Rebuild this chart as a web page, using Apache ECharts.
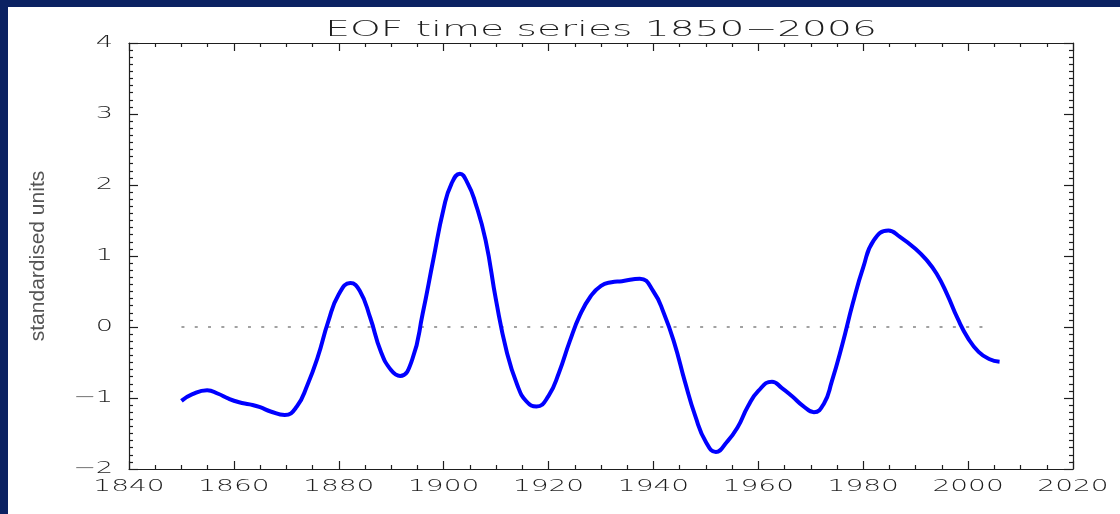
<!DOCTYPE html>
<html>
<head>
<meta charset="utf-8">
<script src="https://cdn.jsdelivr.net/npm/echarts@6/dist/echarts.min.js"></script>
<style>
  html, body { margin: 0; padding: 0; background: #0b2262; width: 1120px; height: 514px; overflow: hidden; }
  #chart { position: absolute; left: 8px; top: 7px; width: 1112px; height: 507px; background: #ffffff; }
</style>
</head>
<body>
<div id="chart"></div>
<script>
// EOF principal component time series, standardised units
// (turning points are included as samples so the smoothed curve peaks on them)
const years = [
  1850, 1852, 1854.9, 1857, 1859, 1861, 1863, 1865, 1867, 1869.7,
  1872, 1874, 1876, 1878, 1880, 1882.2, 1884, 1886, 1888, 1890,
  1891.7, 1894, 1896, 1898, 1900, 1901.5, 1903.1, 1904.6, 1906, 1908,
  1910, 1912, 1914, 1915.8, 1917.7, 1920, 1922, 1924, 1926, 1928,
  1930, 1932, 1934, 1937.4, 1940, 1942, 1944, 1946, 1948, 1950,
  1951.9, 1954, 1956, 1958, 1960, 1962.6, 1964.5, 1966.5, 1968.5, 1970.6,
  1972.5, 1974, 1976, 1978, 1980, 1982, 1984.8, 1987, 1990, 1992,
  1994, 1996, 1998, 2000, 2002, 2004, 2006
];
const values = [
  -1.04, -0.95, -0.89, -0.94, -1.01, -1.06, -1.09, -1.13, -1.19, -1.24,
  -1.12, -0.82, -0.42, 0.08, 0.46, 0.62, 0.51, 0.13, -0.34, -0.61,
  -0.69, -0.46, 0.19, 0.94, 1.67, 2.02, 2.16, 2.02, 1.76, 1.22,
  0.37, -0.34, -0.81, -1.05, -1.12, -0.97, -0.64, -0.21, 0.17, 0.43,
  0.58, 0.63, 0.645, 0.68, 0.50, 0.19, -0.23, -0.77, -1.26, -1.62,
  -1.76, -1.62, -1.42, -1.12, -0.90, -0.77, -0.86, -0.98, -1.11, -1.20,
  -1.08, -0.77, -0.25, 0.33, 0.84, 1.22, 1.36, 1.27, 1.10, 0.95,
  0.75, 0.46, 0.12, -0.16, -0.35, -0.45, -0.49
];
// zero reference line span
const zeroLineYears = [1850, 2004.5];

const xTickLabels = [1840, 1860, 1880, 1900, 1920, 1940, 1960, 1980, 2000, 2020];
const yTickLabels = [-2, -1, 0, 1, 2, 3, 4];

const titleText = 'EOF time series 1850\u22122006';
const yAxisTitle = 'standardised units';
const xRange = [1840, 2020];
const yRange = [-2, 4];

const series = years.map((y, i) => [y, values[i]]);
const zeroLine = zeroLineYears.map(y => [y, 0]);

const ink = '#1e1e1e';
// wide, thin stroke lettering for title and tick labels
const thinFont = 'DejaVu Sans';

function yFmt(v) {
  return v < 0 ? '\u2212' + Math.abs(v) : String(v);
}

const xCommon = {
  type: 'value', min: xRange[0], max: xRange[1], interval: 20,
  axisLine: { show: true, onZero: false, lineStyle: { color: ink, width: 1.2 } },
  axisTick: { show: true, inside: true, length: 8, lineStyle: { color: ink, width: 1.2 } },
  minorTick: { show: true, splitNumber: 4, length: 4, lineStyle: { color: ink, width: 1.2 } },
  axisLabel: { show: false },
  splitLine: { show: false }
};
const yCommon = {
  type: 'value', min: yRange[0], max: yRange[1], interval: 1,
  axisLine: { show: true, onZero: false, lineStyle: { color: ink, width: 1.2 } },
  axisTick: { show: true, inside: true, length: 9, lineStyle: { color: ink, width: 1.2 } },
  minorTick: { show: true, splitNumber: 10, length: 4, lineStyle: { color: ink, width: 1.2 } },
  axisLabel: { show: false },
  splitLine: { show: false }
};

const chart = echarts.init(document.getElementById('chart'), null, { renderer: 'canvas' });
chart.setOption({
  animation: false,
  backgroundColor: '#ffffff',
  grid: { left: 121, right: 47, top: 36, bottom: 45, containLabel: false },
  xAxis: [
    Object.assign({}, xCommon, { position: 'bottom' }),
    Object.assign({}, xCommon, { position: 'top' })
  ],
  yAxis: [
    Object.assign({}, yCommon, {
      position: 'left',
      name: yAxisTitle, nameLocation: 'middle', nameGap: 80, nameRotate: 90,
      nameTextStyle: { fontFamily: 'Liberation Sans', fontSize: 21, color: '#555555' }
    }),
    Object.assign({}, yCommon, { position: 'right' })
  ],
  series: [
    {
      type: 'line', data: zeroLine, xAxisIndex: 0, yAxisIndex: 0,
      symbol: 'none', silent: true,
      lineStyle: { color: '#444444', width: 1.2, type: [3, 10.3] }
    },
    {
      type: 'line', data: series, xAxisIndex: 0, yAxisIndex: 0,
      symbol: 'none', smooth: 0.5,
      lineStyle: { color: '#0000ff', width: 4 }
    }
  ]
});

// Title and tick labels are laid out from the axis scales, stretched horizontally
function stretchedText(text, x, y, size, align, sx) {
  return {
    type: 'text', x: x, y: y, scaleX: sx, scaleY: 1, silent: true,
    style: {
      text: text, fill: ink, fontFamily: thinFont, fontWeight: 200,
      fontSize: size, align: align, verticalAlign: 'middle'
    }
  };
}

const xAxisY = chart.convertToPixel({ yAxisIndex: 0 }, yRange[0]);
const yAxisX = chart.convertToPixel({ xAxisIndex: 0 }, xRange[0]);
const plotMidX = (chart.convertToPixel({ xAxisIndex: 0 }, xRange[0]) +
                  chart.convertToPixel({ xAxisIndex: 0 }, xRange[1])) / 2;
const plotTopY = chart.convertToPixel({ yAxisIndex: 0 }, yRange[1]);

const labels = [];
labels.push(stretchedText(titleText, plotMidX, plotTopY - 12.5, 21.5, 'center', 1.82));
xTickLabels.forEach(v => {
  labels.push(stretchedText(String(v), chart.convertToPixel({ xAxisIndex: 0 }, v),
    xAxisY + 18, 16, 'center', 1.75));
});
yTickLabels.forEach(v => {
  labels.push(stretchedText(yFmt(v), yAxisX - 16,
    chart.convertToPixel({ yAxisIndex: 0 }, v), 16, 'right', 1.7));
});
chart.setOption({ graphic: labels });
</script>
</body>
</html>
